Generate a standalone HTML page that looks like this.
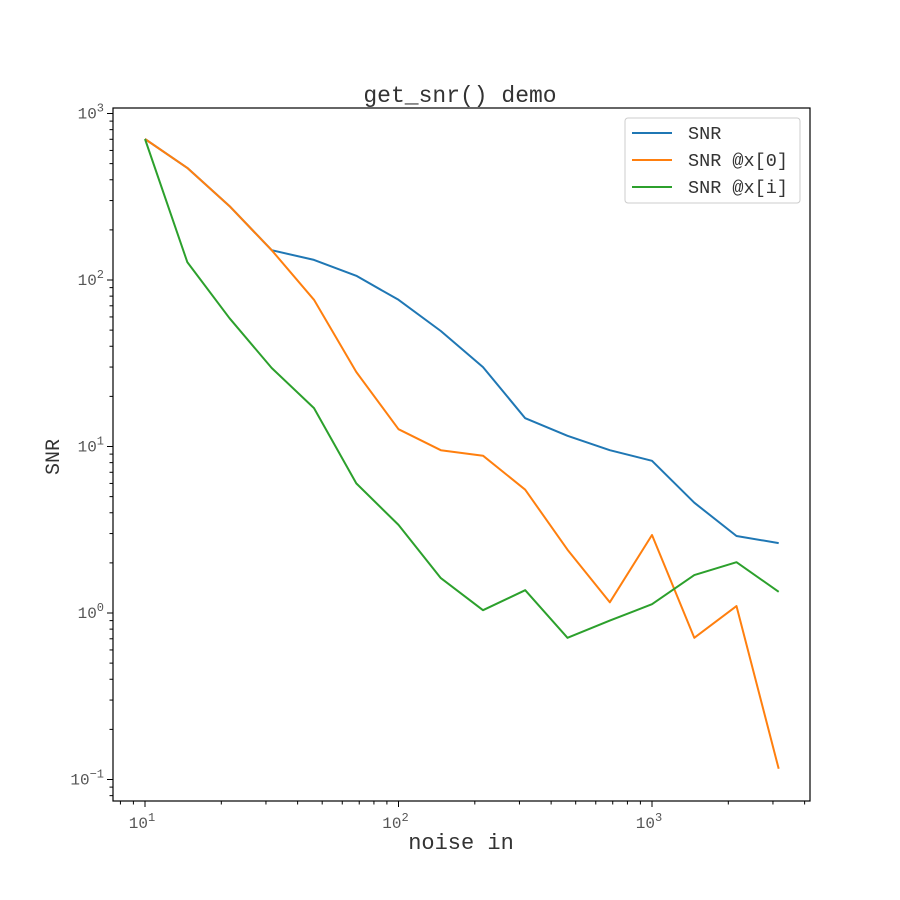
<!DOCTYPE html>
<html><head><meta charset="utf-8"><style>
body{margin:0;background:#fff}
svg{display:block}
text{font-family:"Liberation Mono",monospace}
</style></head><body>
<svg id="chart" width="900" height="900" xmlns="http://www.w3.org/2000/svg">
<rect width="900" height="900" fill="#fff"/>
<g id="ticks"></g>
<g id="series"></g>
<rect x="113" y="108" width="697" height="693" fill="none" stroke="#000" stroke-width="1.2"/>
<text x="460" y="102" text-anchor="middle" font-size="23" fill="#333">get_snr() demo</text>
<text x="461" y="849" text-anchor="middle" font-size="22" fill="#333">noise in</text>
<text transform="translate(59,457) rotate(-90)" text-anchor="middle" font-size="20" fill="#333">SNR</text>
<g>
<rect x="625" y="118" width="175" height="85" rx="3" fill="#fff" stroke="#ccc"/>
<g id="legend"></g>
</g>
</svg>
<script>
const xValues=[10,14.68,21.54,31.62,46.42,68.13,100,146.8,215.4,316.2,464.2,681.3,1000,1468,2154,3162];
const snrValues=[703,471,278,151,132,106,76,49.4,30,14.8,11.6,9.5,8.2,4.6,2.9,2.63];
const snrX0Values=[703,471,278,151,76,28,12.7,9.5,8.8,5.5,2.4,1.16,2.94,0.71,1.1,0.116];
const snrXiValues=[703,128,59,29.6,17,6.0,3.38,1.62,1.04,1.37,0.71,0.9,1.13,1.69,2.02,1.34];
const seriesNames=["SNR","SNR @x[0]","SNR @x[i]"];
const seriesColors=["#1f77b4","#ff7f0e","#2ca02c"];
const xTickLabels=["1","2","3"];
const yTickLabels=["-1","0","1","2","3"];
const NS="http://www.w3.org/2000/svg";
function xs(v){return 145+Math.log10(v/10)*253.5;}
function ys(v){return 613-Math.log10(v)*166.5;}
function mk(tag,attrs,parent){const e=document.createElementNS(NS,tag);for(const k in attrs)e.setAttribute(k,attrs[k]);parent.appendChild(e);return e;}
const tg=document.getElementById('ticks');
for(let d=0;d<=3;d++){for(let m=1;m<=9;m++){const v=m*Math.pow(10,d);const x=xs(v);if(x<113||x>810)continue;
const t=mk('line',{x1:x,x2:x,y1:801,y2:801+(m==1?6:3.5),stroke:'#000','stroke-width':1},tg);

}}
xTickLabels.forEach(p=>{const x=xs(Math.pow(10,+p));
const t=mk('text',{x:x-3,y:828,'text-anchor':'middle','font-size':16,fill:'#555'},tg);
t.innerHTML='10<tspan dy="-7" font-size="12">'+p+'</tspan>';

});
for(let d=-2;d<=3;d++){for(let m=1;m<=9;m++){const v=m*Math.pow(10,d);const y=ys(v);if(y<108||y>801)continue;
const t=mk('line',{x1:113,x2:113-(m==1?6:3.5),y1:y,y2:y,stroke:'#000','stroke-width':1},tg);

}}
yTickLabels.forEach(p=>{const y=ys(Math.pow(10,+p));
const t=mk('text',{x:104,y:y+5,'text-anchor':'end','font-size':16,fill:'#555'},tg);
t.innerHTML='10<tspan dy="-7" font-size="12">'+(p.replace('-','\u2212'))+'</tspan>';

});
const sg=document.getElementById('series');
[snrValues,snrX0Values,snrXiValues].forEach((vals,i)=>{
const pts=vals.map((v,j)=>xs(xValues[j]).toFixed(1)+','+ys(v).toFixed(1)).join(' ');
const p=mk('polyline',{points:pts,fill:'none',stroke:seriesColors[i],'stroke-width':2,'stroke-linejoin':'round'},sg);

});
const lg=document.getElementById('legend');
seriesNames.forEach((n,i)=>{const y=133+i*27;
const l=mk('line',{x1:632,x2:672,y1:y,y2:y,stroke:seriesColors[i],'stroke-width':2},lg);


const t=mk('text',{x:688,y:y+6,'font-size':18.5,fill:'#333'},lg);t.textContent=n;

});
</script>
</body></html>
